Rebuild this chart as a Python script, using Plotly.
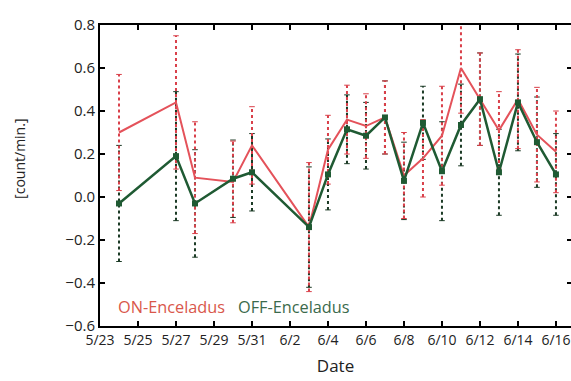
import plotly.graph_objects as go

dates = ["2012-05-24", "2012-05-27", "2012-05-28", "2012-05-30", "2012-05-31",
         "2012-06-03", "2012-06-04", "2012-06-05", "2012-06-06", "2012-06-07",
         "2012-06-08", "2012-06-09", "2012-06-10", "2012-06-11", "2012-06-12",
         "2012-06-13", "2012-06-14", "2012-06-15", "2012-06-16"]

on_vals = [0.30, 0.44, 0.09, 0.07, 0.24, -0.14, 0.22, 0.36, 0.33, 0.37,
           0.10, 0.18, 0.285, 0.60, 0.455, 0.31, 0.455, 0.29, 0.21]
on_err = [0.27, 0.31, 0.26, 0.19, 0.18, 0.30, 0.16, 0.16, 0.15, 0.17,
          0.20, 0.18, 0.23, 0.21, 0.215, 0.18, 0.23, 0.22, 0.19]

off_vals = [-0.03, 0.19, -0.03, 0.085, 0.115, -0.14, 0.105, 0.315, 0.285, 0.37,
            0.075, 0.345, 0.12, 0.335, 0.455, 0.115, 0.44, 0.255, 0.105]
off_err = [0.27, 0.30, 0.25, 0.18, 0.18, 0.28, 0.165, 0.16, 0.155, 0.17,
           0.18, 0.17, 0.23, 0.19, 0.215, 0.20, 0.225, 0.21, 0.19]

RED = "#e4525a"
GREEN = "#1f5a33"
RED_ERR = "#d9404a"
GREEN_ERR = "#1b3a25"
FONT = "Open Sans"


def err_segments(xs, ys, es):
    ex, ey = [], []
    for x, y, e in zip(xs, ys, es):
        ex += [x, x, None]
        ey += [y - e, y + e, None]
    return ex, ey


fig = go.Figure()

gx, gy = err_segments(dates, off_vals, off_err)
fig.add_trace(go.Scatter(x=gx, y=gy, mode="lines+markers",
                         line=dict(color=GREEN_ERR, width=2, dash="dot"),
                         marker=dict(symbol="line-ew-open", size=4,
                                     line=dict(color=GREEN_ERR, width=1)),
                         showlegend=False, hoverinfo="skip"))
rx, ry = err_segments(dates, on_vals, on_err)
fig.add_trace(go.Scatter(x=rx, y=ry, mode="lines+markers",
                         line=dict(color=RED_ERR, width=2, dash="dot"),
                         marker=dict(symbol="line-ew-open", size=4,
                                     line=dict(color=RED_ERR, width=1)),
                         showlegend=False, hoverinfo="skip"))

fig.add_trace(go.Scatter(x=dates, y=on_vals, mode="lines",
                         line=dict(color=RED, width=2),
                         name="ON-Enceladus", showlegend=False))
fig.add_trace(go.Scatter(x=dates, y=off_vals, mode="lines+markers",
                         line=dict(color=GREEN, width=2.5),
                         marker=dict(symbol="square", size=6, color=GREEN),
                         name="OFF-Enceladus", showlegend=False))

# invisible trace to drive right-side tick marks
fig.add_trace(go.Scatter(x=[dates[0]], y=[0], yaxis="y2", mode="markers",
                         marker=dict(opacity=0), showlegend=False, hoverinfo="skip"))

fig.update_layout(
    width=571, height=381,
    margin=dict(l=100, r=0, t=25, b=55),
    paper_bgcolor="white", plot_bgcolor="white",
    font=dict(family=FONT, size=14, color="#222222"),
    xaxis=dict(
        type="date",
        range=["2012-05-23", "2012-06-16 19:00"],
        tick0="2012-05-23", dtick=2 * 86400000,
        tickformat="%-m/%-d",
        ticks="inside", ticklen=5, tickwidth=1.5, tickcolor="black",
        showline=True, linecolor="black", linewidth=2, mirror="ticks",
        showgrid=False, zeroline=False,
        title=dict(text="Date", font=dict(size=17), standoff=12),
        tickfont=dict(size=14),
    ),
    yaxis=dict(
        range=[-0.6, 0.8], dtick=0.2, tick0=-0.6, tickformat=".1f",
        ticks="inside", ticklen=5, tickwidth=1.5, tickcolor="black",
        showline=True, linecolor="black", linewidth=2,
        showgrid=False, zeroline=False,
        tickfont=dict(size=15),
    ),
    yaxis2=dict(
        overlaying="y", side="right", range=[-0.6, 0.8], dtick=0.2, tick0=-0.6,
        ticks="inside", ticklen=4, tickwidth=1.5, tickcolor="black",
        showticklabels=False, showline=False, showgrid=False, zeroline=False,
    ),
    annotations=[
        dict(text="[count/min.]", xref="paper", yref="paper", x=-0.17, y=0.555,
             xanchor="center", yanchor="middle", textangle=-90, showarrow=False,
             font=dict(family=FONT, size=14, color="#222222")),
        dict(text="ON-Enceladus", xref="paper", yref="paper", x=0.034, y=0.063,
             xanchor="left", yanchor="middle", showarrow=False,
             font=dict(family=FONT, size=16.3, color="#d9574b")),
        dict(text="OFF-Enceladus", xref="paper", yref="paper", x=0.289, y=0.063,
             xanchor="left", yanchor="middle", showarrow=False,
             font=dict(family=FONT, size=16.3, color="#3b6a4c")),
    ],
)

fig.write_html("out.html")
